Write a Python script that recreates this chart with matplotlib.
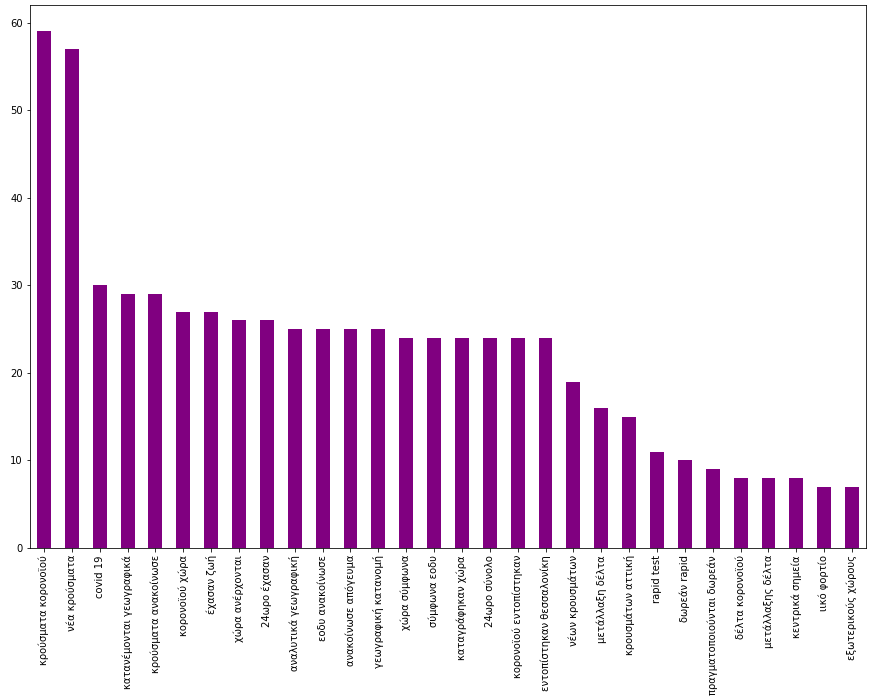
import matplotlib
matplotlib.use("Agg")
import matplotlib.pyplot as plt
import numpy as np

labels = [
    "κρούσματα κορονοϊού", "νέα κρούσματα", "covid 19", "κατανέμονται γεωγραφικά",
    "κρούσματα ανακοίνωσε", "κορονοϊού χώρα", "έχασαν ζωή", "χώρα ανέρχονται",
    "24ωρο έχασαν", "αναλυτικά γεωγραφική", "εοδυ ανακοίνωσε", "ανακοίνωσε απόγευμα",
    "γεωγραφική κατανομή", "χώρα σύμφωνα", "σύμφωνα εοδυ", "καταγράφηκαν χώρα",
    "24ωρο σύνολο", "κορονοϊού εντοπίστηκαν", "εντοπίστηκαν θεσσαλονίκη",
    "νέων κρουσμάτων", "μετάλλαξη δέλτα", "κρουσμάτων αττική", "rapid test",
    "δωρεάν rapid", "πραγματοποιούνται δωρεάν", "δέλτα κορονοϊού",
    "μετάλλαξης δέλτα", "κεντρικά σημεία", "ιικό φορτίο", "εξωτερικούς χώρους",
]
counts = [59, 57, 30, 29, 29, 27, 27, 26, 26, 25, 25, 25, 25, 24, 24, 24,
          24, 24, 24, 19, 16, 15, 11, 10, 9, 8, 8, 8, 7, 7]

fig = plt.figure(figsize=(871 / 72, 700 / 72), dpi=72)
ax = fig.add_axes([30 / 871, 1 - 548 / 700, 836 / 871, 543 / 700])

x = np.arange(len(labels))
ax.bar(x, counts, width=0.5, color="purple")
ax.set_xlim(-0.5, len(labels) - 0.5)
ax.set_ylim(0, 62)
ax.set_xticks(x)
ax.set_xticklabels(labels, rotation=90)

fig.savefig("out.png", dpi=72)
